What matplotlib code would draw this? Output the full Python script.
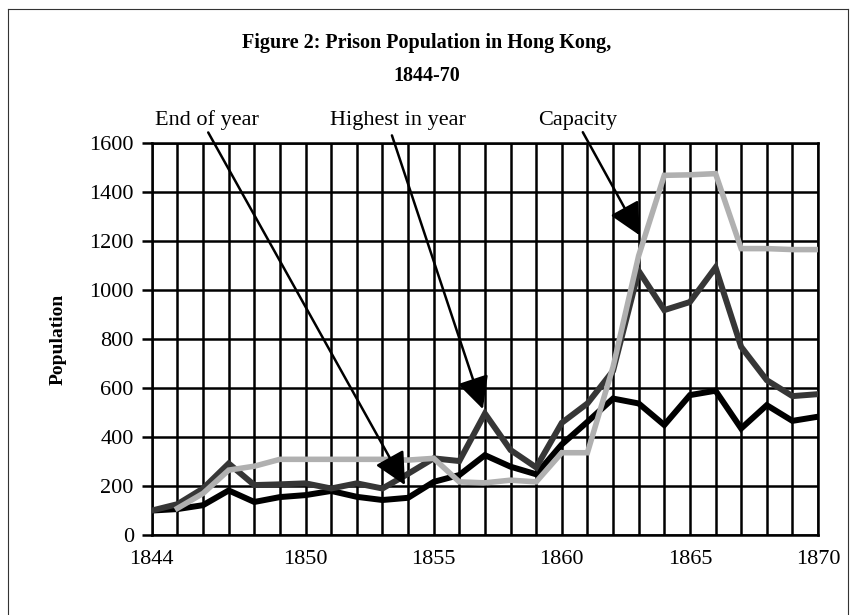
import numpy as np
import matplotlib
matplotlib.use("Agg")
import matplotlib.pyplot as plt
from matplotlib.lines import Line2D

plt.rcParams['font.family'] = ['Liberation Serif', 'DejaVu Serif']

years = np.arange(1844, 1871)
end_of_year = [100, 106, 122, 182, 135, 155, 163, 180, 156, 143, 152, 217, 245, 326, 279, 248,
               370, 462, 557, 537, 449, 571, 589, 435, 530, 466, 483]
highest = [100, 126, 190, 292, 204, 207, 211, 190, 211, 190, 250, 313, 302, 496, 347, 276,
           458, 537, 670, 1078, 918, 951, 1092, 768, 632, 567, 575]
cap_years = np.arange(1845, 1871)
capacity = [109, 170, 265, 281, 309, 309, 309, 309, 309, 306, 313, 217, 213, 224, 217,
            336, 336, 686, 1140, 1468, 1470, 1475, 1169, 1169, 1165, 1165]

xtick_years = [1844, 1850, 1855, 1860, 1865, 1870]
yticks = np.arange(0, 1601, 200)

# label text position, arrow start, arrow tip (year, population)
arrows = [
    ("End of year", (1844.13, 1692), (1846.2, 1643), (1853.88, 204)),
    ("Highest in year", (1850.95, 1692), (1853.37, 1631), (1856.92, 514)),
    ("Capacity", (1859.07, 1692), (1860.82, 1644), (1863.04, 1223)),
]

fig = plt.figure(figsize=(8.53, 6.15), dpi=100)
ax = fig.add_axes([0.178, 0.130, 0.781, 0.6375])

ax.plot(years, end_of_year, color='black', lw=4.3, zorder=3, solid_joinstyle='miter')
ax.plot(years, highest, color='#363636', lw=4.3, zorder=4, solid_joinstyle='miter')
ax.plot(cap_years, capacity, color='#b0b0b0', lw=4.0, zorder=5, solid_joinstyle='miter')

ax.set_xlim(1844, 1870)
ax.set_ylim(0, 1600)
ax.set_xticks(years)
ax.set_xticklabels([str(y) if y in xtick_years else '' for y in years])
ax.set_yticks(yticks)
ax.grid(True, color='black', lw=1.8, zorder=1)
ax.tick_params(axis='x', length=0, pad=11, labelsize=16)
ax.tick_params(axis='y', length=7, width=1.8, direction='out', pad=6, labelsize=16)
for s in ax.spines.values():
    s.set_linewidth(1.8)
ax.set_ylabel("Population", fontsize=14, fontweight='bold', labelpad=16)

for label, tpos, start, tip in arrows:
    ax.text(tpos[0], tpos[1], label, fontsize=16, ha='left', va='center', clip_on=False)
    ax.annotate('', xy=tip, xytext=start, annotation_clip=False, zorder=10,
                arrowprops=dict(arrowstyle='-|>,head_length=0.9,head_width=0.45',
                                mutation_scale=22, lw=1.8, color='black',
                                shrinkA=0, shrinkB=0))

fig.text(0.5, 0.930, "Figure 2: Prison Population in Hong Kong,", ha='center', va='center',
         fontsize=14.5, fontweight='bold')
fig.text(0.5, 0.877, "1844-70", ha='center', va='center', fontsize=14.5, fontweight='bold')

for xs, ys in [([0.0094, 0.0094], [0.0, 0.985]), ([0.0094, 0.994], [0.985, 0.985]),
               ([0.994, 0.994], [0.0, 0.985])]:
    fig.add_artist(Line2D(xs, ys, color='#333333', lw=0.8))

fig.savefig("out.png", dpi=100)
